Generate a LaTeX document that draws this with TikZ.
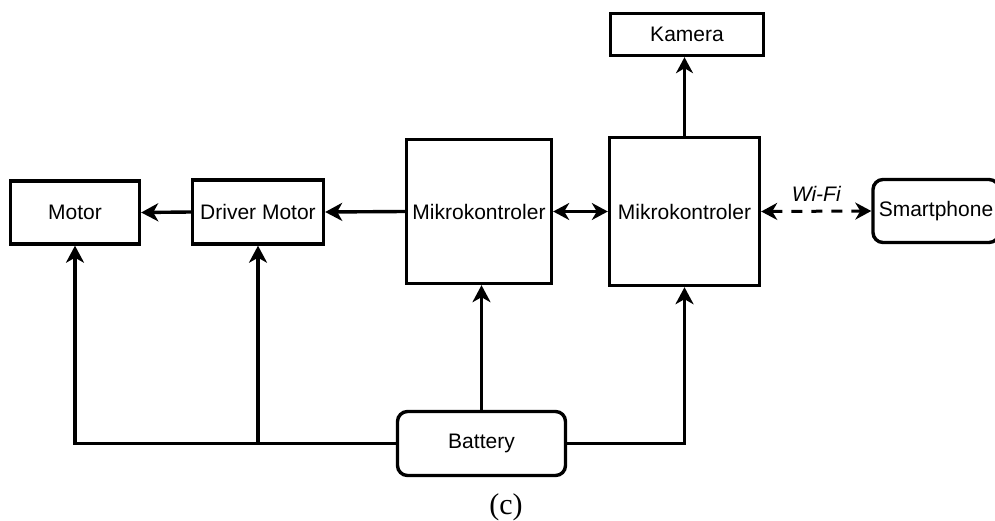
\documentclass[tikz,border=0pt]{standalone}
\usepackage{fontspec}
\setmainfont{Liberation Sans}
\newfontfamily\capserif{Liberation Serif}
\usetikzlibrary{arrows.meta}
\tikzset{
  blk/.style={draw=black, line width=3.4pt, fill=white, inner sep=0pt, align=center,
    font=\fontsize{21}{25}\selectfont},
  rblk/.style={blk, rounded corners=10pt},
  ahb/.tip={Stealth[length=17pt,width=18pt,inset=5pt]},
  ahs/.tip={Stealth[length=16pt,width=17pt,inset=5pt]},
  conn/.style={line width=3.4pt, -ahb},
  thinconn/.style={line width=2.6pt},
}
\begin{document}
\begin{tikzpicture}[x=1pt,y=-1pt]
\clip (0,0) rectangle (995,521);
\fill[white] (0,0) rectangle (995,521);
% nodes
\node[blk, minimum width=129pt, minimum height=63pt] (motor) at (75,212.5) {Motor};
\node[blk, minimum width=131pt, minimum height=64pt] (driver) at (258,212) {Driver Motor};
\node[blk, minimum width=145pt, minimum height=144pt] (mk1) at (479,211.5) {Mikrokontroler};
\node[blk, minimum width=150pt, minimum height=148pt] (mk2) at (684.5,211.5) {Mikrokontroler};
\node[blk, minimum width=153pt, minimum height=42pt] (kam) at (687,34.5) {Kamera};
\node[rblk, minimum width=126pt, minimum height=63pt] (phone) at (936,211) {Smartphone};
\node[rblk, minimum width=168pt, minimum height=64pt] (bat) at (481.5,443.5) {Battery};
\node[font=\capserif\fontsize{30}{33}\selectfont, inner sep=0pt] (cap) at (506,507) {(c)};
% connectors
\draw[conn] (driver.west) -- (motor.east);
\draw[conn] (mk1.west) -- (driver.east);
\draw[thinconn, ahs-ahs] (mk1.east) -- (mk2.west);
\draw[thinconn, -ahs] (mk2.north) -- (mk2.north |- kam.south);
\draw[line width=3pt, dash pattern=on 11pt off 9pt, ahs-ahs] (mk2.east) -- node[above=8pt, font=\itshape\fontsize{21}{25}\selectfont, inner sep=0pt] (wifi) {Wi-Fi} (phone.west);
\draw[conn] (bat.west) -| (motor.south);
\draw[conn] (driver.south |- bat.west) -- (driver.south);
\draw[conn] (bat.north) -- (bat.north |- mk1.south);
\draw[conn] (bat.east) -| (mk2.south);
\end{tikzpicture}
\end{document}
